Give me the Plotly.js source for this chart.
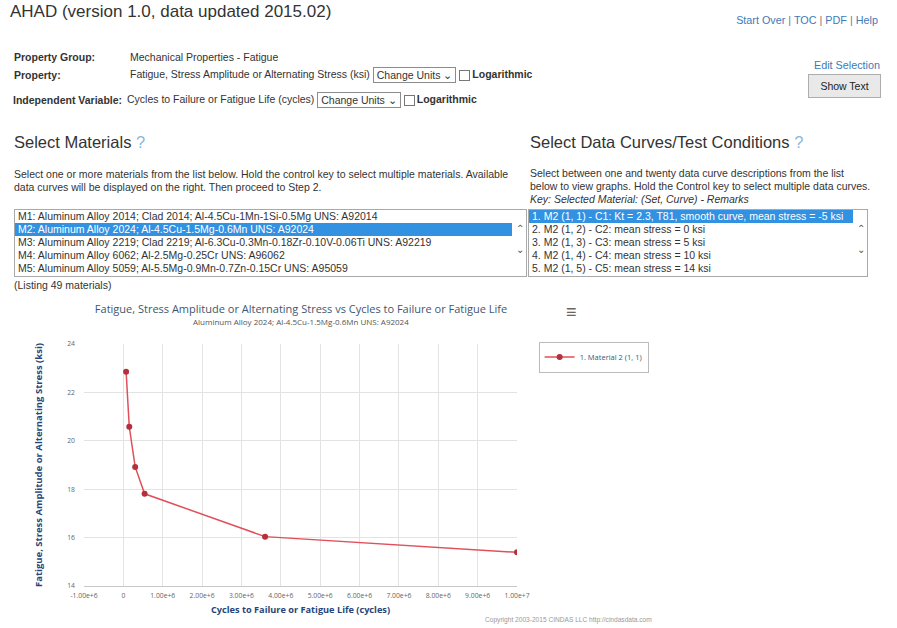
<!DOCTYPE html>
<html>
<head>
<meta charset="utf-8">
<script src="https://cdn.plot.ly/plotly-3.0.1.min.js"></script>
<style>
  html, body { margin:0; padding:0; background:#fff; }
  body { width:897px; height:628px; position:relative; overflow:hidden;
         font-family:"Liberation Sans", Arial, sans-serif; color:#333; }
  .abs { position:absolute; white-space:nowrap; }
  .lbl { font-size:10.5px; font-weight:bold; color:#333; }
  .val { font-size:10.5px; color:#333; }
  .sel { display:inline-block; border:1px solid #8c8c8c; font-size:10.5px; padding:0 3px; height:14px; line-height:14px; vertical-align:middle; background:#fff; }
  .chk { display:inline-block; width:9px; height:9px; border:1px solid #777; vertical-align:middle; margin:0 2px 0 3px; background:#fff; }
  .link { color:#3d7ab8; font-size:10.8px; }
  .h2 { font-size:16.5px; color:#333; }
  .q { color:#8db6dc; }
  .para { font-size:10.5px; line-height:13px; color:#333; white-space:normal; }
  .lb { position:absolute; border:1px solid #a9a9a9; background:#fff; overflow:hidden; }
  .opt { font-size:10.5px; height:13px; line-height:13px; padding-left:3px; white-space:nowrap; color:#333; overflow:hidden; }
  .opt.on { background:#3391e1; color:#fff; }
  .sb { position:absolute; top:0; right:0; width:13px; height:100%; background:#fff; font-size:10px; color:#555; text-align:center; }
</style>
</head>
<body>
<div class="abs" style="left:10px;top:2px;font-size:17px;color:#333;">AHAD (version 1.0, data updated 2015.02)</div>
<div class="abs link" style="right:19px;top:14px;">Start Over <span style="color:#777">|</span> TOC <span style="color:#777">|</span> PDF <span style="color:#777">|</span> Help</div>

<div class="abs lbl" style="left:14px;top:51px;">Property Group:</div>
<div class="abs val" style="left:130px;top:51px;">Mechanical Properties - Fatigue</div>
<div class="abs lbl" style="left:14px;top:69px;">Property:</div>
<div class="abs val" style="left:130px;top:67px;">Fatigue, Stress Amplitude or Alternating Stress (ksi) <span class="sel">Change Units &#8964;</span><span class="chk"></span><b>Logarithmic</b></div>
<div class="abs lbl" style="left:13px;top:94px;">Independent Variable:</div>
<div class="abs val" style="left:127px;top:92px;">Cycles to Failure or Fatigue Life (cycles) <span class="sel">Change Units &#8964;</span><span class="chk"></span><b>Logarithmic</b></div>

<div class="abs link" style="right:17px;top:59px;">Edit Selection</div>
<div class="abs" style="left:808px;top:74px;width:71px;height:22px;border:1px solid #adadad;background:#e9e9e9;font-size:10.5px;line-height:22px;text-align:center;color:#222;">Show Text</div>

<div class="abs h2" style="left:14px;top:133px;">Select Materials <span class="q">?</span></div>
<div class="abs para" style="left:14px;top:168px;width:506px;">Select one or more materials from the list below. Hold the control key to select multiple materials. Available data curves will be displayed on the right. Then proceed to Step 2.</div>

<div class="lb" style="left:14px;top:209px;width:511px;height:66px;">
  <div class="opt">M1: Aluminum Alloy 2014; Clad 2014; Al-4.5Cu-1Mn-1Si-0.5Mg UNS: A92014</div>
  <div class="opt on" style="margin-right:14px;">M2: Aluminum Alloy 2024; Al-4.5Cu-1.5Mg-0.6Mn UNS: A92024</div>
  <div class="opt">M3: Aluminum Alloy 2219; Clad 2219; Al-6.3Cu-0.3Mn-0.18Zr-0.10V-0.06Ti UNS: A92219</div>
  <div class="opt">M4: Aluminum Alloy 6062; Al-2.5Mg-0.25Cr UNS: A96062</div>
  <div class="opt">M5: Aluminum Alloy 5059; Al-5.5Mg-0.9Mn-0.7Zn-0.15Cr UNS: A95059</div>
  <div class="sb"><div style="margin-top:13px;">&#8963;</div><div style="margin-top:10px;">&#8964;</div></div>
</div>
<div class="abs val" style="left:14px;top:279px;">(Listing 49 materials)</div>

<div class="abs h2" style="left:530px;top:133px;">Select Data Curves/Test Conditions <span class="q">?</span></div>
<div class="abs para" style="left:530px;top:167px;width:342px;">Select between one and twenty data curve descriptions from the list below to view graphs. Hold the Control key to select multiple data curves.<br><i>Key: Selected Material: (Set, Curve) - Remarks</i></div>

<div class="lb" style="left:528px;top:209px;width:338px;height:66px;">
  <div class="opt on" style="margin-right:14px;">1. M2 (1, 1) - C1: Kt = 2.3, T81, smooth curve, mean stress = -5 ksi</div>
  <div class="opt">2. M2 (1, 2) - C2: mean stress = 0 ksi</div>
  <div class="opt">3. M2 (1, 3) - C3: mean stress = 5 ksi</div>
  <div class="opt">4. M2 (1, 4) - C4: mean stress = 10 ksi</div>
  <div class="opt">5. M2 (1, 5) - C5: mean stress = 14 ksi</div>
  <div class="sb"><div style="margin-top:13px;">&#8963;</div><div style="margin-top:10px;">&#8964;</div></div>
</div>

<div id="chart" style="position:absolute;left:0;top:298px;width:700px;height:330px;"></div>
<div class="abs" style="left:566px;top:302px;font-size:18px;color:#666;">&#8801;</div>
<div class="abs" style="left:485px;top:616px;font-size:6.6px;color:#999;">Copyright 2003-2015 CINDAS LLC http://cindasdata.com</div>

<script>
// ---- data ----
const cycles = [70000, 150000, 300000, 540000, 3600000, 10000000];
const stress = [22.85, 20.58, 18.92, 17.81, 16.04, 15.39];
const seriesName = "1. Material 2 (1, 1)";
const xTickVals = [-1000000, 0, 1000000, 2000000, 3000000, 4000000, 5000000, 6000000, 7000000, 8000000, 9000000, 10000000];
const xTickText = ["-1.00e+6", "0", "1.00e+6", "2.00e+6", "3.00e+6", "4.00e+6", "5.00e+6", "6.00e+6", "7.00e+6", "8.00e+6", "9.00e+6", "1.00e+7"];
const yTickVals = [14, 16, 18, 20, 22, 24];
const chartTitle = "Fatigue, Stress Amplitude or Alternating Stress vs Cycles to Failure or Fatigue Life";
const chartSubtitle = "Aluminum Alloy 2024; Al-4.5Cu-1.5Mg-0.6Mn UNS: A92024";
const xTitle = "Cycles to Failure or Fatigue Life (cycles)";
const yTitle = "Fatigue, Stress Amplitude or Alternating Stress (ksi)";

const trace = {
  x: cycles, y: stress, name: seriesName, type: "scatter", mode: "lines+markers",
  line: { color: "#e0505a", width: 1.5 },
  marker: { color: "#b3303c", size: 6, symbol: "circle" }
};

const layout = {
  width: 700, height: 330,
  margin: { l: 84, r: 183, t: 46, b: 42, pad: 0 },
  paper_bgcolor: "#fff", plot_bgcolor: "#fff",
  font: { family: "Open Sans, Liberation Sans, sans-serif", color: "#666", size: 7 },
  title: {
    text: chartTitle,
    font: { family: "Open Sans, sans-serif", size: 11, color: "#3e576f" },
    x: 0.43, xanchor: "center", xref: "container",
    y: 0.967, yanchor: "middle", yref: "container"
  },
  annotations: [{
    text: chartSubtitle, xref: "paper", yref: "paper", x: 0.5, y: 1.093,
    xanchor: "center", yanchor: "middle", showarrow: false,
    font: { family: "Open Sans, sans-serif", size: 8, color: "#555" }
  }],
  showlegend: true,
  legend: {
    x: 1.05, y: 1.01, xanchor: "left", yanchor: "top",
    bordercolor: "#bbb", borderwidth: 1, bgcolor: "#fff",
    font: { size: 7.5, color: "#3e576f" }, itemwidth: 30, tracegroupgap: 0
  },
  xaxis: {
    range: [-1000000, 10000000], tickmode: "array", tickvals: xTickVals, ticktext: xTickText,
    showgrid: true, gridcolor: "#e3e3e3", gridwidth: 1, zeroline: false,
    showline: true, linecolor: "#c8c8c8", ticks: "", tickfont: { size: 6.8, color: "#666" },
    ticklabelstandoff: 3,
    title: { text: "<b>" + xTitle + "</b>", font: { size: 9.2, color: "#27457a" }, standoff: 7 },
    fixedrange: true
  },
  yaxis: {
    range: [14, 24], tickmode: "array", tickvals: yTickVals,
    showgrid: true, gridcolor: "#e3e3e3", gridwidth: 1, zeroline: false,
    showline: false, ticks: "", tickfont: { size: 6.8, color: "#666" },
    ticklabelstandoff: 8,
    title: { text: "<b>" + yTitle + "</b>", font: { size: 9.5, color: "#27457a" }, standoff: 22 },
    fixedrange: true
  }
};

Plotly.newPlot("chart", [trace], layout, { displayModeBar: false, staticPlot: true });
</script>
</body>
</html>
